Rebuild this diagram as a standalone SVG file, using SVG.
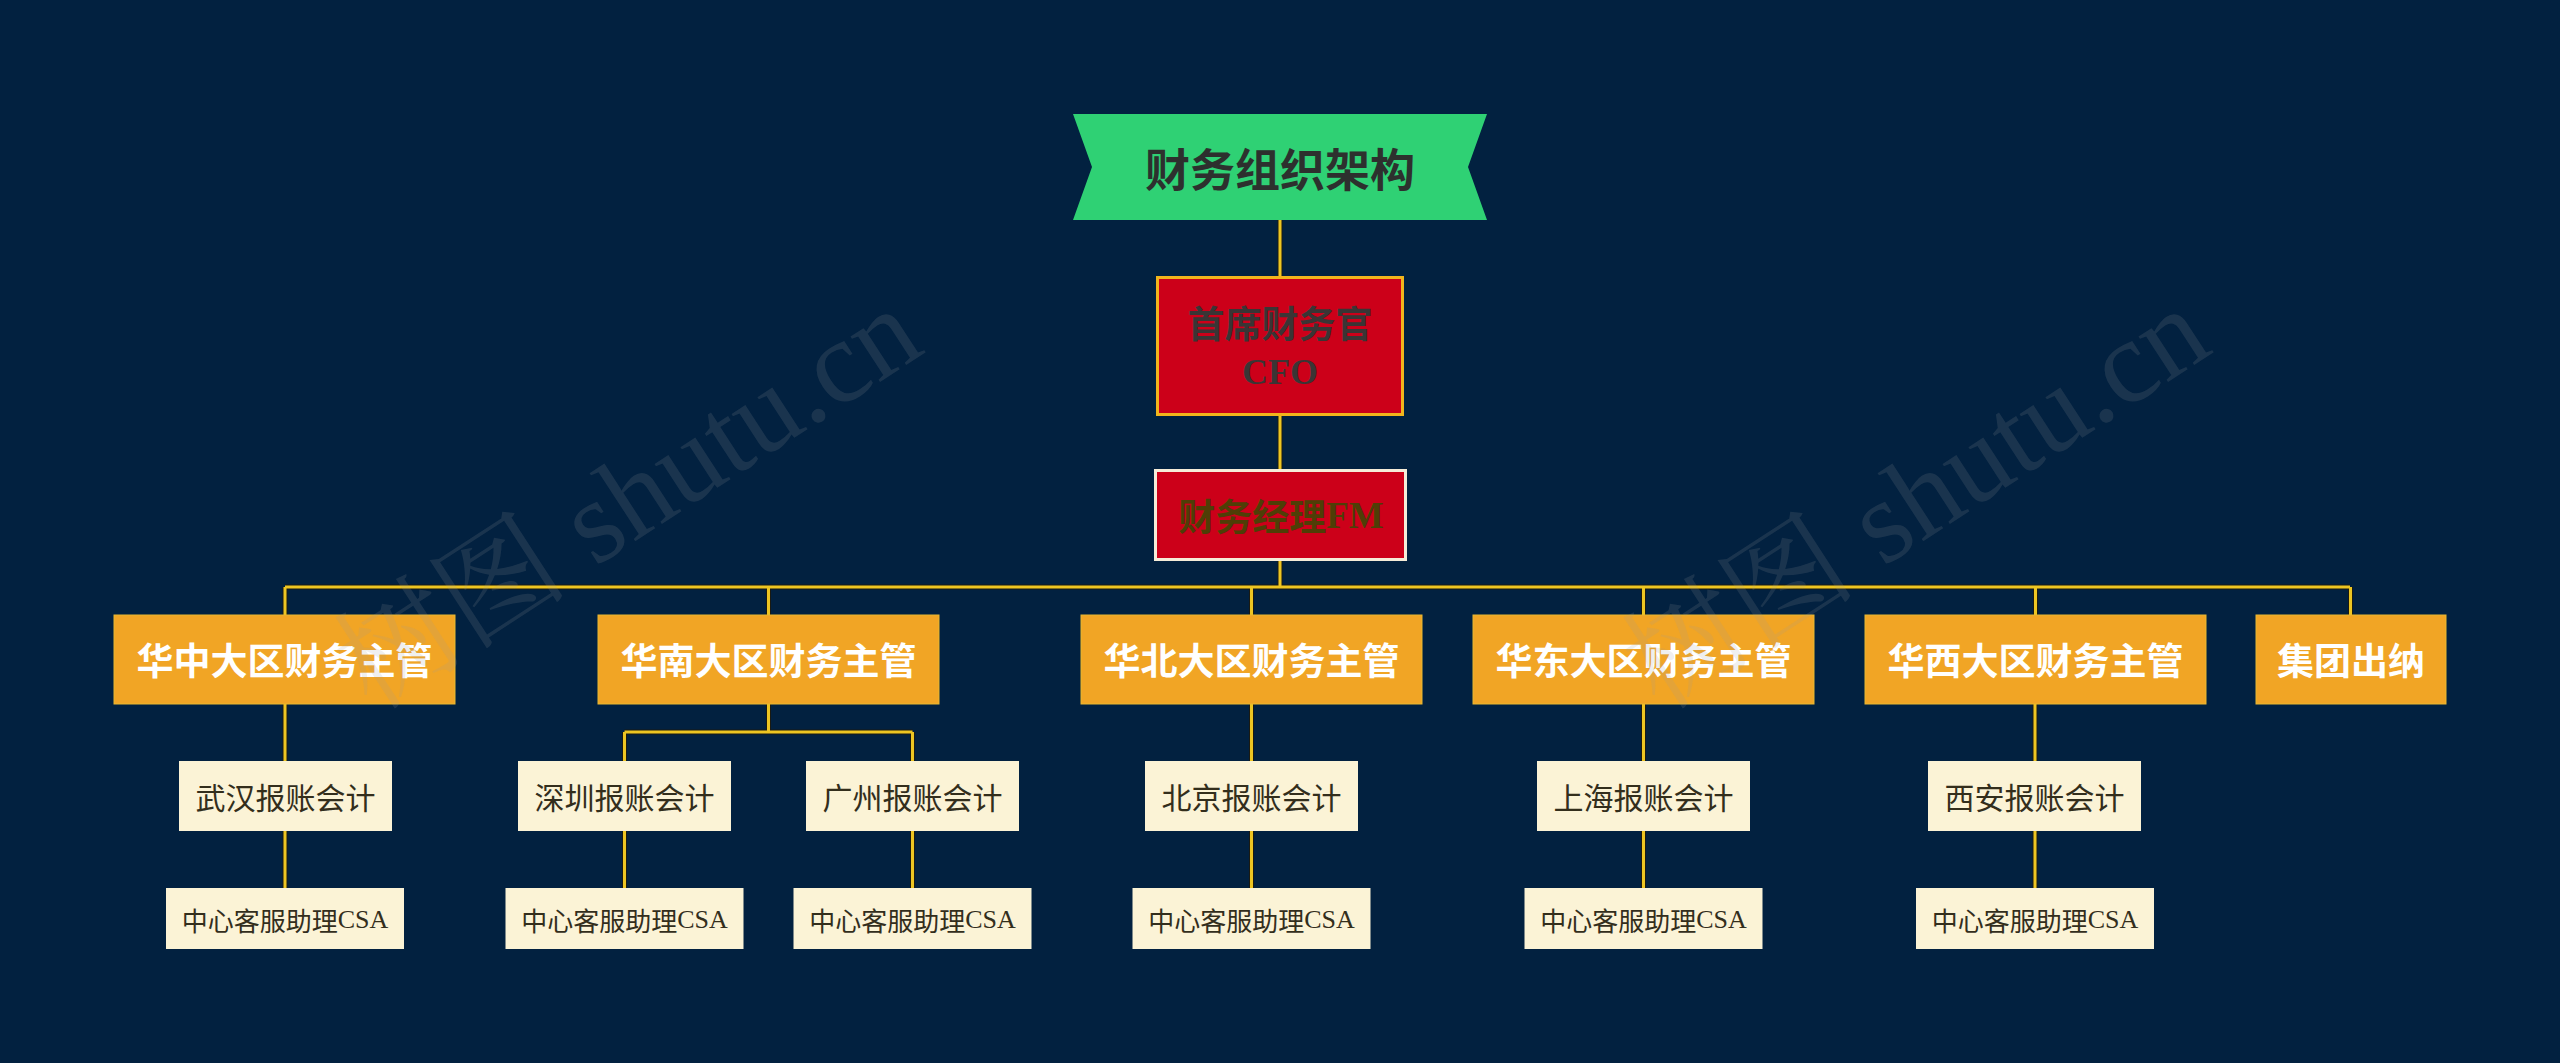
<svg xmlns="http://www.w3.org/2000/svg" width="2560" height="1063" viewBox="0 0 2560 1063">
<style>
.cjk{font-family:"Noto Sans CJK SC","Noto Sans",sans-serif}
.ser{font-family:"Liberation Serif","Noto Sans CJK SC",serif}
.l2 rect{fill:#f1a525;stroke:#e8b830;stroke-width:1}
.l2 text{font-family:"Noto Sans CJK SC",sans-serif;font-weight:bold;font-size:37px;fill:#ffffff;text-anchor:middle;dominant-baseline:central}
.l3 rect{fill:#fbf3d6}
.l3 text{font-family:"Noto Sans CJK SC",sans-serif;font-size:30px;fill:#332e1c;text-anchor:middle;dominant-baseline:central}
.l4 rect{fill:#fbf3d6}
.l4 text{font-size:26px;fill:#332e1c;text-anchor:middle;dominant-baseline:central}
.edge-o{fill:none;stroke:#1a1a12;stroke-width:5}
.edge{fill:none;stroke:#edc522;stroke-width:3}
.wm{font-family:"Liberation Serif","Noto Serif CJK SC","Noto Sans CJK SC",serif;font-size:118px;fill:#9a9a9a;fill-opacity:0.16}
</style>
<rect width="2560" height="1063" fill="#022140"/>
<g id="connectors">
<path class="edge-o" d="M1280 220V276M1280 416V469M1280 561V587M285 587H2350M285 587V615M768.5 587V615M1251.5 587V615M1643.5 587V615M2035.5 587V615M2350.5 587V615M285 704V761M285 831V888M768.5 704V732M624.5 732H912.5M624.5 732V761M912.5 732V761M624.5 831V888M912.5 831V888M1251.5 704V761M1251.5 831V888M1643.5 704V761M1643.5 831V888M2035 704V761M2035 831V888"/>
<path class="edge" d="M1280 220V276M1280 416V469M1280 561V587M285 587H2350M285 587V615M768.5 587V615M1251.5 587V615M1643.5 587V615M2035.5 587V615M2350.5 587V615M285 704V761M285 831V888M768.5 704V732M624.5 732H912.5M624.5 732V761M912.5 732V761M624.5 831V888M912.5 831V888M1251.5 704V761M1251.5 831V888M1643.5 704V761M1643.5 831V888M2035 704V761M2035 831V888"/>
</g>
<g id="root">
<polygon points="1073,114 1487,114 1468,167 1487,220 1073,220 1092,167" fill="#2fd174"/>
<text x="1280" y="167" class="cjk" font-size="45" font-weight="bold" fill="#2d302e" text-anchor="middle" dominant-baseline="central">财务组织架构</text>
</g>
<g id="cfo">
<rect x="1157.5" y="277.5" width="245" height="137" fill="#cc0019" stroke="#f2b51c" stroke-width="3"/>
<text x="1280" y="322" class="cjk" font-size="37" font-weight="bold" fill="#3a3535" text-anchor="middle" dominant-baseline="central">首席财务官</text>
<text x="1280" y="372" class="ser" font-size="36" font-weight="bold" fill="#3a3535" text-anchor="middle" dominant-baseline="central">CFO</text>
</g>
<g id="fm">
<rect x="1155.5" y="470.5" width="250" height="89" fill="#cc0019" stroke="#f6ecd8" stroke-width="3"/>
<text x="1281" y="515" font-size="37" font-weight="bold" fill="#4f3e06" text-anchor="middle" dominant-baseline="central"><tspan class="cjk">财务经理</tspan><tspan class="ser">FM</tspan></text>
</g>
<g id="n-huazhong" class="l2"><rect x="114" y="615" width="341" height="89"/><text x="284.5" y="659">华中大区财务主管</text></g>
<g id="n-huanan" class="l2"><rect x="598" y="615" width="341" height="89"/><text x="768.5" y="659">华南大区财务主管</text></g>
<g id="n-huabei" class="l2"><rect x="1081" y="615" width="341" height="89"/><text x="1251.5" y="659">华北大区财务主管</text></g>
<g id="n-huadong" class="l2"><rect x="1473" y="615" width="341" height="89"/><text x="1643.5" y="659">华东大区财务主管</text></g>
<g id="n-huaxi" class="l2"><rect x="1865" y="615" width="341" height="89"/><text x="2035.5" y="659">华西大区财务主管</text></g>
<g id="n-chuna" class="l2"><rect x="2256" y="615" width="190" height="89"/><text x="2351" y="659">集团出纳</text></g>
<g id="a-wuhan" class="l3"><rect x="179" y="761" width="213" height="70"/><text x="285.5" y="796">武汉报账会计</text></g>
<g id="a-shenzhen" class="l3"><rect x="518" y="761" width="213" height="70"/><text x="624.5" y="796">深圳报账会计</text></g>
<g id="a-guangzhou" class="l3"><rect x="806" y="761" width="213" height="70"/><text x="912.5" y="796">广州报账会计</text></g>
<g id="a-beijing" class="l3"><rect x="1145" y="761" width="213" height="70"/><text x="1251.5" y="796">北京报账会计</text></g>
<g id="a-shanghai" class="l3"><rect x="1537" y="761" width="213" height="70"/><text x="1643.5" y="796">上海报账会计</text></g>
<g id="a-xian" class="l3"><rect x="1928" y="761" width="213" height="70"/><text x="2034.5" y="796">西安报账会计</text></g>
<g id="c-1" class="l4"><rect x="166" y="888" width="238" height="61"/><text x="285" y="918.5"><tspan class="cjk">中心客服助理</tspan><tspan class="ser">CSA</tspan></text></g>
<g id="c-2" class="l4"><rect x="505.5" y="888" width="238" height="61"/><text x="624.5" y="918.5"><tspan class="cjk">中心客服助理</tspan><tspan class="ser">CSA</tspan></text></g>
<g id="c-3" class="l4"><rect x="793.5" y="888" width="238" height="61"/><text x="912.5" y="918.5"><tspan class="cjk">中心客服助理</tspan><tspan class="ser">CSA</tspan></text></g>
<g id="c-4" class="l4"><rect x="1132.5" y="888" width="238" height="61"/><text x="1251.5" y="918.5"><tspan class="cjk">中心客服助理</tspan><tspan class="ser">CSA</tspan></text></g>
<g id="c-5" class="l4"><rect x="1524.5" y="888" width="238" height="61"/><text x="1643.5" y="918.5"><tspan class="cjk">中心客服助理</tspan><tspan class="ser">CSA</tspan></text></g>
<g id="c-6" class="l4"><rect x="1916" y="888" width="238" height="61"/><text x="2035" y="918.5"><tspan class="cjk">中心客服助理</tspan><tspan class="ser">CSA</tspan></text></g>
<g id="watermark">
<text class="wm" transform="translate(372,712) rotate(-33)">树图 shutu.cn</text>
<text class="wm" transform="translate(1660,712) rotate(-33)">树图 shutu.cn</text>
</g>
</svg>
